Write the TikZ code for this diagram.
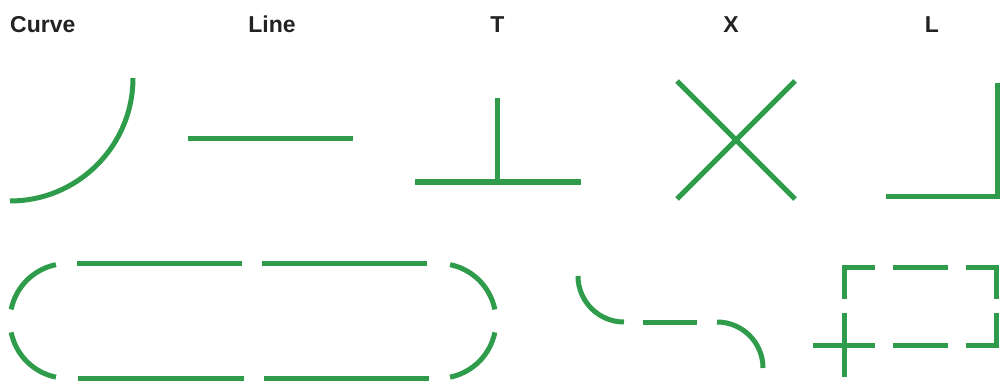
\documentclass[tikz,border=0pt]{standalone}
\usepackage{fontspec}
\setmainfont{Liberation Sans}
\usepackage{xcolor}
\usetikzlibrary{positioning,calc}
\definecolor{strokegreen}{RGB}{46,156,74}
\definecolor{labelgray}{RGB}{34,34,34}

\begin{document}
\begin{tikzpicture}[x=1pt, y=1pt,
    stroke/.style={draw=strokegreen, line width=5pt, line cap=butt, line join=miter},
    caption/.style={font=\fontsize{23}{27}\selectfont\bfseries, text=labelgray, inner sep=0pt}]
  \useasboundingbox (0,0) rectangle (1005,381);
  \def\base{348}   % label baseline
  \def\rad{57.4}   % stadium end radius
  % labels
  \node[caption, anchor=base west] (curvelbl) at (10,\base) {Curve};
  \node[caption, anchor=base] (linelbl) at (272,\base) {Line};
  \node[caption, anchor=base] (tlbl) at (497.5,\base) {T};
  \node[caption, anchor=base] (xlbl) at (731,\base) {X};
  \node[caption, anchor=base] (llbl) at (932,\base) {L};
  % top row of pieces
  \draw[stroke] (10,180) arc[start angle=270, end angle=360, radius=123];
  \draw[stroke] (188,242) -- (353,242);
  \draw[stroke] (415,199) -- (581,199);
  \draw[stroke] (497.5,199) -- (497.5,283);
  \draw[stroke] (677,300) -- (795,182);
  \draw[stroke] (677,182) -- (795,300);
  \draw[stroke] (886,185) -- (997,185) -- (997,298);
  % stadium, drawn dash by dash
  \foreach \a/\b in {101.5/168.5, 191.5/258.5}
    \draw[stroke] ($(67.4,60.1)+(\a:\rad)$) arc[start angle=\a, end angle=\b, radius=\rad];
  \foreach \a/\b in {281.5/348.5, 11.5/78.5}
    \draw[stroke] ($(438.6,60.1)+(\a:\rad)$) arc[start angle=\a, end angle=\b, radius=\rad];
  \foreach \xa/\xb in {77/242, 262/427}
    \draw[stroke] (\xa,117.5) -- (\xb,117.5);
  \foreach \xa/\xb in {78/244, 264/429}
    \draw[stroke] (\xa,2.7) -- (\xb,2.7);
  % curve - dash - curve
  \draw[stroke] (578,105) arc[start angle=180, end angle=270, radius=46];
  \draw[stroke] (643,59) -- (697,59);
  \draw[stroke] (717,59) arc[start angle=90, end angle=0, radius=46];
  % dashed box with a cross at one corner
  \draw[stroke] (844.5,82) -- (844.5,113.5) -- (875,113.5);
  \draw[stroke] (893,113.5) -- (948,113.5);
  \draw[stroke] (966,113.5) -- (996.5,113.5) -- (996.5,82);
  \draw[stroke] (996.5,68) -- (996.5,36) -- (966,36);
  \draw[stroke] (893,36) -- (948,36);
  \draw[stroke] (813,36) -- (875,36);
  \draw[stroke] (844.5,68) -- (844.5,4);
\end{tikzpicture}
\end{document}
